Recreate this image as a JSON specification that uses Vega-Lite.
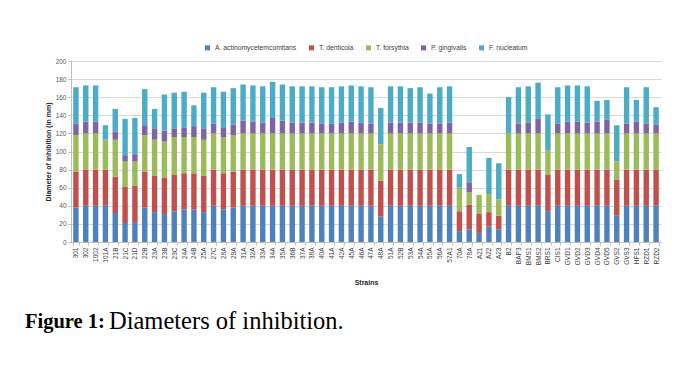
{
  "$schema": "https://vega.github.io/schema/vega-lite/v6.json",
  "autosize": {"type": "pad"},
  "padding": {"left": 25, "top": 44, "right": 5, "bottom": 5},
  "background": "white",
  "spacing": 0,
  "title": {
    "text": "Figure 1:", "orient": "bottom", "anchor": "start", "frame": "group",
    "dx": -46, "dy": 3, "offset": -24,
    "font": "Liberation Serif", "fontSize": 20.5, "fontWeight": "bold", "color": "black"
  },
  "vconcat": [
    {
      "width": 590,
      "height": 181,
      "title": {
        "text": "Diameters of inhibition.", "orient": "bottom", "anchor": "start", "frame": "group",
        "dx": 38, "offset": 24,
        "font": "Liberation Serif", "fontSize": 24.5, "fontWeight": "normal", "color": "black"
      },
      "data": {"values": [
        {"strain": "301", "a": 38, "b": 40, "c": 40, "d": 13, "e": 40},
        {"strain": "302", "a": 40, "b": 40, "c": 40, "d": 13, "e": 40},
        {"strain": "1002", "a": 40, "b": 40, "c": 40, "d": 13, "e": 40},
        {"strain": "101A", "a": 40, "b": 40, "c": 33, "d": 0, "e": 16},
        {"strain": "21B", "a": 32, "b": 40, "c": 41, "d": 9, "e": 25},
        {"strain": "21C", "a": 21, "b": 40, "c": 28, "d": 7, "e": 40},
        {"strain": "21D", "a": 22, "b": 40, "c": 27, "d": 8, "e": 40},
        {"strain": "22B", "a": 38, "b": 40, "c": 40, "d": 11, "e": 40},
        {"strain": "23A", "a": 33, "b": 40, "c": 40, "d": 12, "e": 22},
        {"strain": "23B", "a": 31, "b": 40, "c": 40, "d": 12, "e": 40},
        {"strain": "23C", "a": 34, "b": 40, "c": 42, "d": 9, "e": 40},
        {"strain": "24A", "a": 36, "b": 40, "c": 40, "d": 10, "e": 40},
        {"strain": "24B", "a": 36, "b": 40, "c": 40, "d": 12, "e": 23},
        {"strain": "25A", "a": 33, "b": 40, "c": 40, "d": 12, "e": 40},
        {"strain": "27C", "a": 40, "b": 40, "c": 40, "d": 11, "e": 40},
        {"strain": "28A", "a": 36, "b": 40, "c": 40, "d": 10, "e": 40},
        {"strain": "29A", "a": 38, "b": 40, "c": 40, "d": 12, "e": 40},
        {"strain": "31A", "a": 40, "b": 40, "c": 40, "d": 14, "e": 40},
        {"strain": "32A", "a": 40, "b": 40, "c": 40, "d": 13, "e": 40},
        {"strain": "33A", "a": 40, "b": 40, "c": 40, "d": 12, "e": 40},
        {"strain": "34A", "a": 40, "b": 40, "c": 40, "d": 17, "e": 40},
        {"strain": "35A", "a": 40, "b": 40, "c": 40, "d": 14, "e": 40},
        {"strain": "36B", "a": 40, "b": 40, "c": 40, "d": 12, "e": 40},
        {"strain": "37A", "a": 40, "b": 40, "c": 40, "d": 12, "e": 40},
        {"strain": "38A", "a": 40, "b": 40, "c": 40, "d": 12, "e": 40},
        {"strain": "40A", "a": 40, "b": 40, "c": 40, "d": 11, "e": 40},
        {"strain": "41A", "a": 40, "b": 40, "c": 40, "d": 11, "e": 40},
        {"strain": "42A", "a": 40, "b": 40, "c": 40, "d": 12, "e": 40},
        {"strain": "45A", "a": 40, "b": 40, "c": 40, "d": 13, "e": 40},
        {"strain": "46A", "a": 40, "b": 40, "c": 40, "d": 12, "e": 40},
        {"strain": "47A", "a": 40, "b": 40, "c": 40, "d": 11, "e": 40},
        {"strain": "48A", "a": 28, "b": 40, "c": 40, "d": 0, "e": 40},
        {"strain": "51A", "a": 40, "b": 40, "c": 40, "d": 12, "e": 40},
        {"strain": "52B", "a": 40, "b": 40, "c": 40, "d": 12, "e": 40},
        {"strain": "53A", "a": 40, "b": 40, "c": 40, "d": 12, "e": 38},
        {"strain": "54A", "a": 40, "b": 40, "c": 40, "d": 12, "e": 39},
        {"strain": "55A", "a": 40, "b": 40, "c": 40, "d": 11, "e": 33},
        {"strain": "56A", "a": 40, "b": 40, "c": 40, "d": 11, "e": 40},
        {"strain": "57A1", "a": 40, "b": 40, "c": 40, "d": 12, "e": 40},
        {"strain": "70A", "a": 12, "b": 22, "c": 26, "d": 0, "e": 15},
        {"strain": "78A", "a": 14, "b": 27, "c": 14, "d": 11, "e": 39},
        {"strain": "A21", "a": 10, "b": 21, "c": 21, "d": 0, "e": 0},
        {"strain": "A22", "a": 17, "b": 16, "c": 20, "d": 0, "e": 40},
        {"strain": "A23", "a": 14, "b": 15, "c": 18, "d": 0, "e": 40},
        {"strain": "B2", "a": 40, "b": 40, "c": 40, "d": 0, "e": 40},
        {"strain": "BAP3", "a": 40, "b": 40, "c": 40, "d": 11, "e": 40},
        {"strain": "BMS1", "a": 40, "b": 40, "c": 40, "d": 12, "e": 40},
        {"strain": "BMS2", "a": 40, "b": 40, "c": 40, "d": 16, "e": 40},
        {"strain": "BRS1", "a": 34, "b": 40, "c": 27, "d": 0, "e": 40},
        {"strain": "CIS1", "a": 40, "b": 40, "c": 40, "d": 11, "e": 40},
        {"strain": "GVD1", "a": 40, "b": 40, "c": 40, "d": 13, "e": 40},
        {"strain": "GVD2", "a": 40, "b": 40, "c": 40, "d": 13, "e": 40},
        {"strain": "GVD3", "a": 40, "b": 40, "c": 40, "d": 12, "e": 40},
        {"strain": "GVD4", "a": 40, "b": 40, "c": 40, "d": 13, "e": 23},
        {"strain": "GVD5", "a": 40, "b": 40, "c": 40, "d": 15, "e": 22},
        {"strain": "GVS2", "a": 29, "b": 40, "c": 20, "d": 0, "e": 40},
        {"strain": "GVS3", "a": 40, "b": 40, "c": 40, "d": 11, "e": 40},
        {"strain": "HFS1", "a": 40, "b": 40, "c": 40, "d": 13, "e": 24},
        {"strain": "RZD1", "a": 40, "b": 40, "c": 40, "d": 11, "e": 40},
        {"strain": "RZD2", "a": 40, "b": 40, "c": 40, "d": 10, "e": 19}
      ]},
      "transform": [{"fold": ["a", "b", "c", "d", "e"], "as": ["sp", "val"]}],
      "mark": {"type": "bar"},
      "encoding": {
        "x": {
          "field": "strain", "type": "nominal", "sort": null,
          "scale": {"paddingInner": 0.45, "paddingOuter": 0.225},
          "axis": {
            "title": "Strains", "labelAngle": -90, "labelFontSize": 6.5, "labelColor": "#404040",
            "tickBand": "extent", "tickSize": 3, "tickColor": "#bfbfbf", "domainColor": "#bfbfbf",
            "labelPadding": 2, "titleFontSize": 7, "titleFontWeight": "bold", "titleColor": "#262626",
            "titlePadding": 14
          }
        },
        "y": {
          "field": "val", "type": "quantitative", "stack": "zero",
          "scale": {"domain": [0, 200]},
          "axis": {
            "title": "Diameter of inhibition (in mm)", "values": [0, 20, 40, 60, 80, 100, 120, 140, 160, 180, 200],
            "labelFontSize": 6.5, "labelColor": "#595959", "tickSize": 3, "tickColor": "#bfbfbf",
            "domainColor": "#bfbfbf", "gridColor": "#d9d9d9", "labelPadding": 2,
            "titleFontSize": 7, "titleFontWeight": "bold", "titleColor": "#262626", "titlePadding": 4
          }
        },
        "color": {
          "field": "sp", "type": "nominal",
          "scale": {"domain": ["a", "b", "c", "d", "e"], "range": ["#4F81BD", "#C0504D", "#9BBB59", "#8064A2", "#4BACC6"]},
          "legend": {
            "title": null, "orient": "top", "direction": "horizontal", "symbolType": "square",
            "symbolSize": 25, "labelFontSize": 6.8, "labelColor": "#404040", "columnPadding": 11, "offset": 6,
            "labelExpr": "{'a': 'A. actinomycetemcomitans', 'b': 'T. denticola', 'c': 'T. forsythia', 'd': 'P. gingivalis', 'e': 'F. nucleatum'}[datum.label]"
          }
        },
        "order": {"field": "sp", "type": "nominal", "sort": "ascending"}
      }
    }
  ],
  "config": {
    "view": {"stroke": null},
    "font": "Liberation Sans",
    "legend": {"layout": {"top": {"anchor": "middle"}}}
  }
}
